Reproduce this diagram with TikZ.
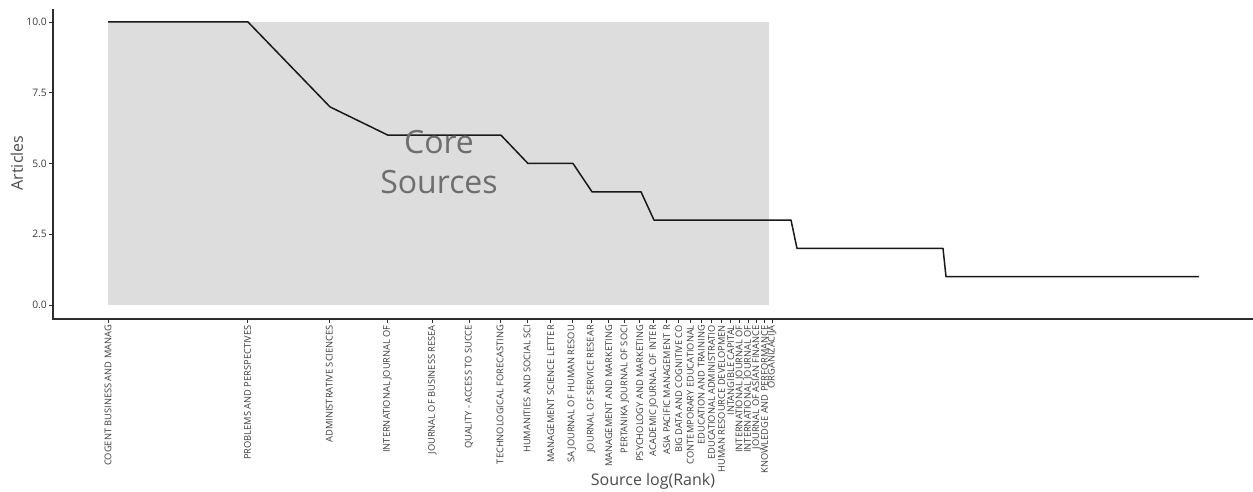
\documentclass[tikz,border=0pt]{standalone}
\usepackage{fontspec}
\setmainfont{Open Sans}
\definecolor{shadegray}{RGB}{221,221,221}
\definecolor{ticktext}{RGB}{60,60,60}
\definecolor{titletext}{RGB}{75,75,75}
\definecolor{coretext}{RGB}{110,110,110}
\definecolor{axisline}{RGB}{45,45,45}
\tikzset{
  xticklab/.style={rotate=90,anchor=east,inner sep=0pt,text=ticktext,font=\fontsize{9.3}{11}\selectfont},
  yticklab/.style={anchor=east,inner sep=0pt,text=ticktext,font=\fontsize{10.3}{12}\selectfont},
  axtitle/.style={inner sep=0pt,text=titletext,font=\fontsize{16}{19}\selectfont},
  tickmark/.style={draw=axisline,line width=0.8pt},
  axisstyle/.style={draw=axisline,line width=1.2pt},
  dataline/.style={draw=black!90,line width=1.5pt,line join=round}
}
\begin{document}
\begin{tikzpicture}[x=1pt,y=-1pt]
\useasboundingbox (0,0) rectangle (1253,492);
% core sources area
\fill[shadegray] (108,22) rectangle (769,305);
% axes
\coordinate (ytop) at (53,9);
\coordinate (origin) at (53,319);
\coordinate (xend) at (1253,319);
\draw[axisstyle] (ytop) -- (origin) -- (xend);
% y ticks
\foreach \i/\v/\lab in {0/0/0.0,1/2.5/2.5,2/5/5.0,3/7.5/7.5,4/10/10.0}{
  \pgfmathsetmacro{\yy}{305-28.3*\v}
  \coordinate (yt\i) at (53,\yy);
  \draw[tickmark] (yt\i) -- ++(-4,0) coordinate (ytl\i);
  \node[yticklab] (ylab\i) at ([xshift=-2pt]ytl\i) {\lab};
}
% x ticks and labels
\foreach \r/\name in {1/COGENT BUSINESS AND MANAG,2/PROBLEMS AND PERSPECTIVES,3/ADMINISTRATIVE SCIENCES,4/INTERNATIONAL JOURNAL OF,5/JOURNAL OF BUSINESS RESEA,6/QUALITY - ACCESS TO SUCCE,7/TECHNOLOGICAL FORECASTING,8/HUMANITIES AND SOCIAL SCI,9/MANAGEMENT SCIENCE LETTER,10/SA JOURNAL OF HUMAN RESOU,11/JOURNAL OF SERVICE RESEAR,12/MANAGEMENT AND MARKETING,13/PERTANIKA JOURNAL OF SOCI,14/PSYCHOLOGY AND MARKETING,15/ACADEMIC JOURNAL OF INTER,16/ASIA PACIFIC MANAGEMENT R,17/BIG DATA AND COGNITIVE CO,18/CONTEMPORARY EDUCATIONAL,19/EDUCATION AND TRAINING,20/EDUCATIONAL ADMINISTRATIO,21/HUMAN RESOURCE DEVELOPMEN,22/INTANGIBLE CAPITAL,23/INTERNATIONAL JOURNAL OF,24/INTERNATIONAL JOURNAL OF,25/JOURNAL OF ASIAN FINANCE,26/KNOWLEDGE AND PERFORMANCE,27/ORGANIZACIJA}{
  \pgfmathsetmacro{\xx}{108+201.5*ln(\r)}
  \coordinate (xt\r) at (\xx,319);
  \draw[tickmark] (xt\r) -- ++(0,4) coordinate (xtl\r);
  \node[xticklab] (xlab\r) at ([yshift=-2pt]xtl\r) {\name};
}
% data line
\draw[dataline] (108,22) -- (248,22) -- (330,106.9) -- (388,135.2) -- (501,135.2)
  -- (528,163.5) -- (573,163.5) -- (592,191.8) -- (641,191.8) -- (654,220.1)
  -- (791,220.1) -- (797,248.4) -- (943,248.4) -- (946,276.7) -- (1199,276.7);
% core sources label
\node[inner sep=0pt,text=coretext,font=\fontsize{32}{40}\selectfont,align=center] (core) at (439,162) {Core\\Sources};
% axis titles
\node[axtitle,rotate=90] (ytitle) at (17,163) {Articles};
\node[axtitle] (xtitle) at (653,481) {Source log(Rank)};
\end{tikzpicture}
\end{document}
